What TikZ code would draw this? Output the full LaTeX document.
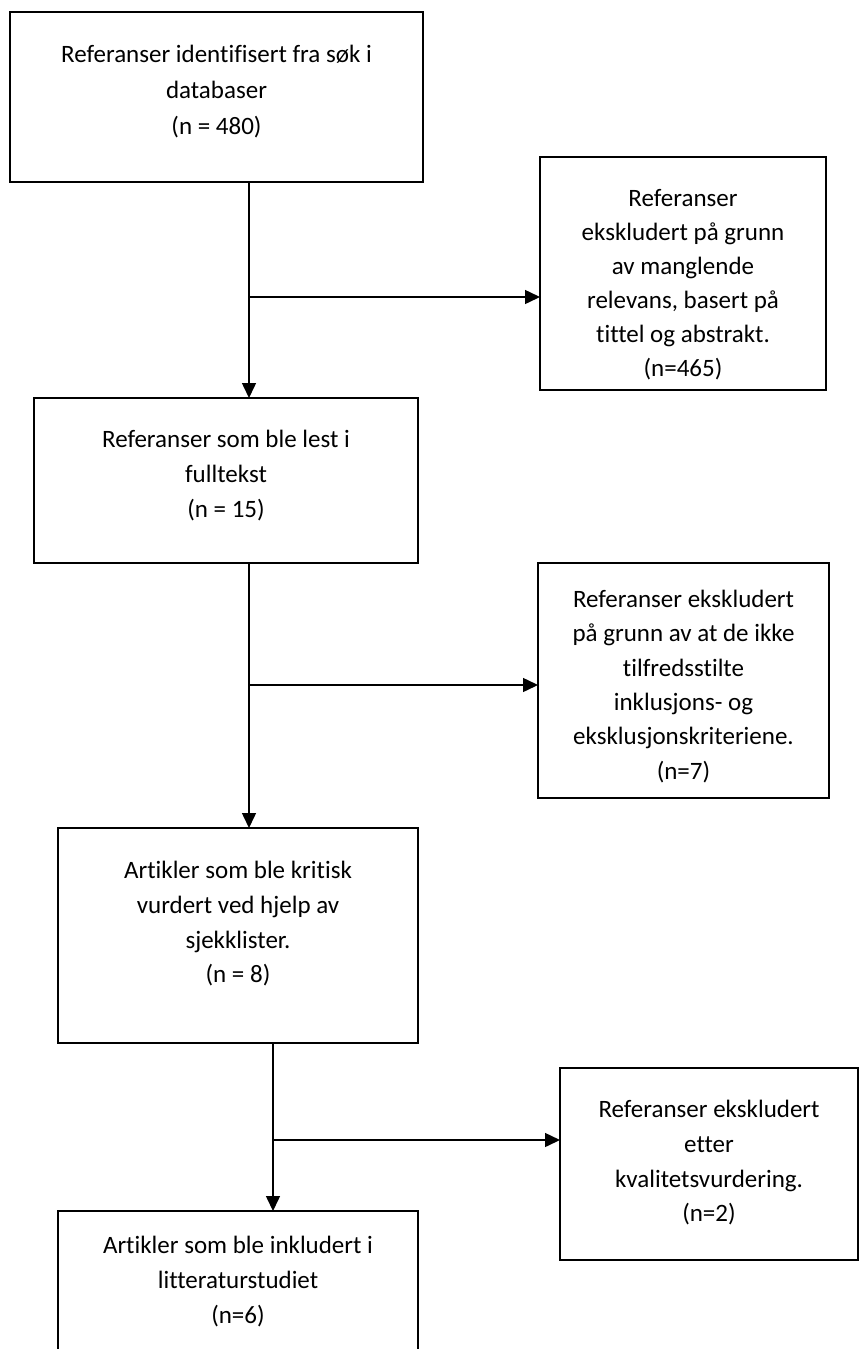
\documentclass[tikz,border=0pt]{standalone}
\usepackage{fontspec}
\setmainfont{Carlito}[Ligatures=NoCommon]
\usetikzlibrary{arrows.meta}
\begin{document}
\begin{tikzpicture}[x=1pt,y=-1pt,
  box/.style={draw=black,line width=1.5pt,inner sep=0pt,outer sep=0pt,fill=white},
  lbl/.style={anchor=north,align=center,inner sep=0pt,font=\fontsize{25}{34.8}\selectfont},
  conn/.style={line width=1.5pt},
  arr/.style={conn,-{Triangle[length=15pt,width=14pt]}}]
\clip (0,0) rectangle (860,1349);
\fill[white] (0,0) rectangle (860,1349);
% boxes
\node[box,minimum width=413pt,minimum height=170pt] (b1) at (216.5,97) {};
\node[box,minimum width=286pt,minimum height=233pt] (b2) at (683,273.5) {};
\node[box,minimum width=384pt,minimum height=165pt] (b3) at (226,480.5) {};
\node[box,minimum width=291pt,minimum height=235pt] (b4) at (683.5,680.5) {};
\node[box,minimum width=360pt,minimum height=215pt] (b5) at (238,935.5) {};
\node[box,minimum width=298pt,minimum height=192pt] (b6) at (709,1164) {};
\node[box,minimum width=360pt,minimum height=200pt] (b7) at (238,1311) {};
% labels
\node[lbl,font=\fontsize{25}{36}\selectfont] (t1) at ([yshift=-33pt]b1.north) {Referanser identifisert fra søk i\\databaser\\(n = 480)};
\node[lbl,font=\fontsize{25}{34}\selectfont] (t2) at ([yshift=-32pt]b2.north) {Referanser\\ekskludert på grunn\\av manglende\\relevans, basert på\\tittel og abstrakt.\\(n=465)};
\node[lbl] (t3) at ([yshift=-32pt]b3.north) {Referanser som ble lest i\\fulltekst\\(n = 15)};
\node[lbl,font=\fontsize{25}{34.3}\selectfont] (t4) at ([yshift=-27pt]b4.north) {Referanser ekskludert\\på grunn av at de ikke\\tilfredsstilte\\inklusjons- og\\eksklusjonskriteriene.\\(n=7)};
\node[lbl] (t5) at ([yshift=-33pt]b5.north) {Artikler som ble kritisk\\vurdert ved hjelp av\\sjekklister.\\(n = 8)};
\node[lbl] (t6) at ([yshift=-32pt]b6.north) {Referanser ekskludert\\etter\\kvalitetsvurdering.\\(n=2)};
\node[lbl] (t7) at ([yshift=-25pt]b7.north) {Artikler som ble inkludert i\\litteraturstudiet\\(n=6)};
% junctions
\coordinate (j1) at (249,297);
\coordinate (j2) at (249,685);
\coordinate (j3) at (273,1140);
% connectors
\draw[arr] (b1.south -| j1) -- (b3.north -| j1);
\draw[arr] (j1) -- (b2.west |- j1);
\draw[arr] (b3.south -| j2) -- (b5.north -| j2);
\draw[arr] (j2) -- (b4.west |- j2);
\draw[arr] (b5.south -| j3) -- (b7.north -| j3);
\draw[arr] (j3) -- (b6.west |- j3);
\end{tikzpicture}
\end{document}
